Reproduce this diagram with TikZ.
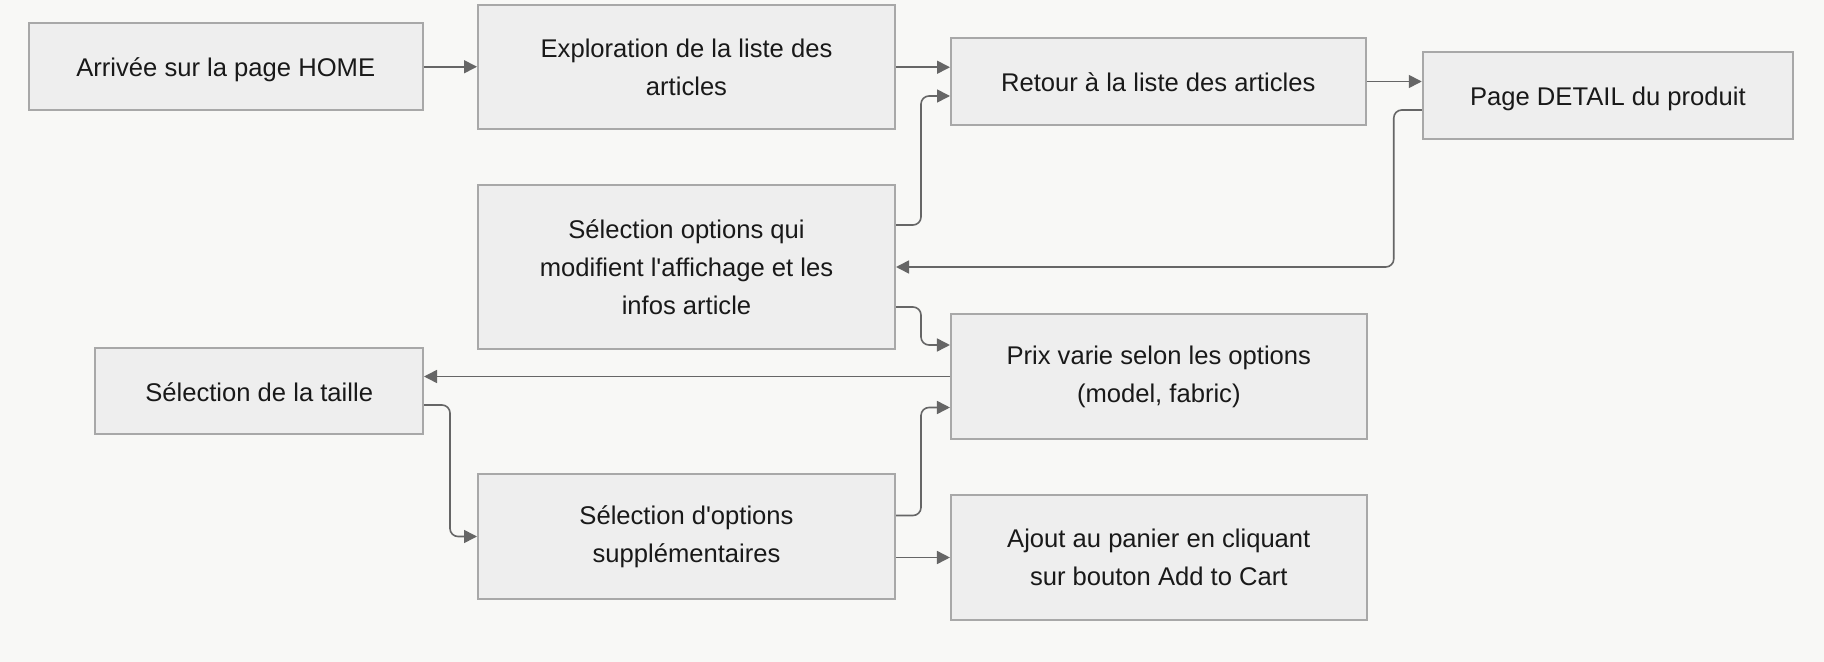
\documentclass[tikz,border=0pt]{standalone}
\usepackage{fontspec}
\setmainfont{Liberation Sans}[Ligatures=TeXOff]
\usetikzlibrary{arrows.meta,calc}
\definecolor{bg}{HTML}{F8F8F6}
\definecolor{boxfill}{HTML}{EEEEEE}
\definecolor{boxline}{HTML}{A8A8A8}
\definecolor{edgecol}{HTML}{666666}
\begin{document}
\begin{tikzpicture}[x=0.5pt,y=-0.5pt,
  box/.style={draw=boxline, line width=1pt, fill=boxfill, align=center, inner sep=0pt,
    font=\fontsize{12.8}{19}\selectfont, text=black!90},
  onebox/.style={box, text height=10.4pt, text depth=0.2pt},
  conn/.style={draw=edgecol, line width=0.8pt, rounded corners=4pt,
    -{Triangle[length=6.5pt,width=6.5pt]}}]
\fill[bg] (0,0) rectangle (1824,662);
\useasboundingbox (0,0) rectangle (1824,662);

\node[onebox, minimum width=196.75pt, minimum height=43.25pt] (home) at (225.75,66.75) {Arrivée sur la page HOME};
\node[box, minimum width=208.5pt, minimum height=62.25pt] (expl) at (686.5,67.25) {Exploration de la liste des\\articles};
\node[onebox, minimum width=207.25pt, minimum height=43.5pt] (retour) at (1158.25,81.5) {Retour à la liste des articles};
\node[onebox, minimum width=185.15pt, minimum height=43.35pt] (detail) at (1607.9,95.7) {Page DETAIL du produit};
\node[box, minimum width=208.5pt, minimum height=81.7pt] (soq) at (686.5,267) {Sélection options qui\\modifient l'affichage et les\\infos article};
\node[onebox, minimum width=163.8pt, minimum height=43.3pt] (taille) at (259.2,391) {Sélection de la taille};
\node[box, minimum width=208.5pt, minimum height=62.5pt] (so) at (686.5,536.5) {Sélection d'options\\supplémentaires};
\node[box, minimum width=207.85pt, minimum height=62.5pt] (prix) at (1158.8,376.5) {Prix varie selon les options\\(model, fabric)};
\node[box, minimum width=207.85pt, minimum height=62.5pt] (ajout) at (1158.8,557.5) {Ajout au panier en cliquant\\sur bouton Add to Cart};

\coordinate (soqA) at ($(soq.east)+(0,-42)$);
\coordinate (soqB) at ($(soq.east)+(0,40)$);
\coordinate (retIn) at ($(retour.west)+(0,14.5)$);
\coordinate (detOut) at ($(detail.west)+(0,14.3)$);
\coordinate (prixA) at ($(prix.west)+(0,-31.5)$);
\coordinate (prixB) at ($(prix.west)+(0,31)$);
\coordinate (tailOut) at ($(taille.east)+(0,14)$);
\coordinate (soA) at ($(so.east)+(0,-21)$);
\coordinate (soB) at ($(so.east)+(0,21)$);

\draw[conn] (home.east) -- (home.east -| expl.west);
\draw[conn] (expl.east) -- (expl.east -| retour.west);
\draw[conn] (soqA) -- ++(25,0) |- (retIn);
\draw[conn] (retour.east) -- (retour.east -| detail.west);
\draw[conn] (detOut) -- ++(-28,0) |- (soq.east);
\draw[conn] (soqB) -- ++(25,0) |- (prixA);
\draw[conn] (prix.west) -- (prix.west -| taille.east);
\draw[conn] (tailOut) -- ++(26,0) |- (so.west);
\draw[conn] (soA) -- ++(25,0) |- (prixB);
\draw[conn] (soB) -- (soB -| ajout.west);
\end{tikzpicture}
\end{document}
